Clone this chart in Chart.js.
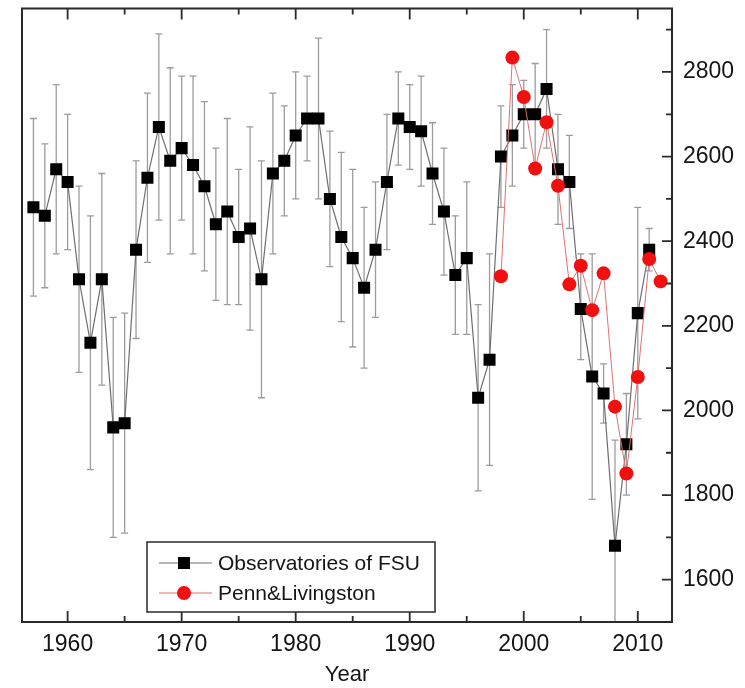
<!DOCTYPE html>
<html><head><meta charset="utf-8">
<script src="https://cdn.jsdelivr.net/npm/chart.js@4/dist/chart.umd.min.js"></script>
<style>html,body{margin:0;padding:0;background:#fff}#wrap{width:745px;height:688px;position:relative}</style>
</head><body><div id="wrap"><canvas id="c"></canvas></div>
<script>
const fsuLabel = 'Observatories of FSU';
const pennLabel = 'Penn&Livingston';
const fsuYears = [1957,1958,1959,1960,1961,1962,1963,1964,1965,1966,1967,1968,1969,1970,1971,1972,1973,1974,1975,1976,1977,1978,1979,1980,1981,1982,1983,1984,1985,1986,1987,1988,1989,1990,1991,1992,1993,1994,1995,1996,1997,1998,1999,2000,2001,2002,2003,2004,2005,2006,2007,2008,2009,2010,2011];
const fsuValues = [2480,2460,2570,2540,2310,2160,2310,1960,1970,2380,2550,2670,2590,2620,2580,2530,2440,2470,2410,2430,2310,2560,2590,2650,2690,2690,2500,2410,2360,2290,2380,2540,2690,2670,2660,2560,2470,2320,2360,2030,2120,2600,2650,2700,2700,2760,2570,2540,2240,2080,2040,1680,1920,2230,2380];
const fsuHigh = [2690,2630,2770,2700,2530,2460,2560,2220,2230,2590,2750,2890,2810,2790,2790,2730,2620,2690,2570,2670,2590,2750,2720,2800,2790,2880,2660,2610,2570,2480,2540,2700,2800,2770,2790,2680,2620,2460,2540,2250,2370,2720,2770,2780,2820,2900,2700,2650,2370,2370,2110,1930,2040,2480,2430];
const fsuLow = [2270,2290,2370,2380,2090,1860,2060,1700,1710,2170,2350,2450,2370,2450,2370,2330,2260,2250,2250,2190,2030,2370,2460,2500,2590,2500,2340,2210,2150,2100,2220,2380,2580,2570,2530,2440,2320,2180,2180,1810,1870,2480,2530,2620,2570,2620,2440,2430,2120,1790,1970,1430,1800,1980,2330];
const pennYears = [1998,1999,2000,2001,2002,2003,2004,2005,2006,2007,2008,2009,2010,2011,2012];
const pennValues = [2317,2834,2741,2572,2681,2531,2298,2342,2237,2324,2009,1851,2079,2358,2305];
const xTickLabels = [1960,1970,1980,1990,2000,2010];
const xMinorTicks = [1965,1975,1985,1995,2005];
const yTickLabels = [1600,1800,2000,2200,2400,2600,2800];
const yMinorTicks = [1700,1900,2100,2300,2500,2700,2900];
const xAxisTitle = 'Year';

const FONT = "'Liberation Sans', Arial, sans-serif";
const INK = '#151515';

const errorBars = {
  id: 'errorBars',
  beforeDatasetsDraw(chart) {
    const {ctx, chartArea: a, scales: {x, y}} = chart;
    ctx.save();
    ctx.beginPath(); ctx.rect(a.left, a.top, a.width, a.height); ctx.clip();
    ctx.strokeStyle = '#9c9c9c'; ctx.lineWidth = 1.3;
    fsuYears.forEach((yr, i) => {
      const px = x.getPixelForValue(yr);
      const hi = y.getPixelForValue(fsuHigh[i]);
      const lo = y.getPixelForValue(fsuLow[i]);
      ctx.beginPath();
      ctx.moveTo(px, hi); ctx.lineTo(px, lo);
      ctx.moveTo(px - 3.5, hi); ctx.lineTo(px + 3.5, hi);
      ctx.moveTo(px - 3.5, lo); ctx.lineTo(px + 3.5, lo);
      ctx.stroke();
    });
    ctx.restore();
  }
};

const frameAndTicks = {
  id: 'frameAndTicks',
  afterDatasetsDraw(chart) {
    const {ctx, chartArea: a, scales: {x, y}} = chart;
    ctx.save();
    ctx.strokeStyle = '#2a2a2a';
    ctx.lineWidth = 2;
    ctx.strokeRect(a.left, a.top, a.width, a.height);
    ctx.lineWidth = 1.8;
    ctx.beginPath();
    xTickLabels.forEach(v => { const p = x.getPixelForValue(v);
      ctx.moveTo(p, a.bottom); ctx.lineTo(p, a.bottom - 11);
      ctx.moveTo(p, a.top); ctx.lineTo(p, a.top + 11); });
    xMinorTicks.forEach(v => { const p = x.getPixelForValue(v);
      ctx.moveTo(p, a.bottom); ctx.lineTo(p, a.bottom - 6);
      ctx.moveTo(p, a.top); ctx.lineTo(p, a.top + 6); });
    yTickLabels.forEach(v => { const p = y.getPixelForValue(v);
      ctx.moveTo(a.right, p); ctx.lineTo(a.right - 10, p); });
    yMinorTicks.forEach(v => { const p = y.getPixelForValue(v);
      ctx.moveTo(a.right, p); ctx.lineTo(a.right - 6, p); });
    ctx.stroke();
    ctx.restore();
  }
};

const boxLegend = {
  id: 'boxLegend',
  afterDraw(chart) {
    const {ctx} = chart;
    const left = 147, top = 542, right = 435, bottom = 612;
    ctx.save();
    ctx.fillStyle = '#fff';
    ctx.fillRect(left, top, right - left, bottom - top);
    ctx.strokeStyle = '#2a2a2a'; ctx.lineWidth = 1.5;
    ctx.strokeRect(left, top, right - left, bottom - top);
    const rows = [{ds: chart.data.datasets[0], y: 563}, {ds: chart.data.datasets[1], y: 593}];
    rows.forEach(r => {
      ctx.strokeStyle = r.ds.borderColor; ctx.lineWidth = 1.2;
      ctx.beginPath(); ctx.moveTo(159, r.y); ctx.lineTo(212, r.y); ctx.stroke();
      ctx.fillStyle = r.ds.pointBackgroundColor;
      if (r.ds.pointStyle === 'rect') {
        ctx.fillRect(184 - 6, r.y - 6, 12, 12);
      } else {
        ctx.beginPath(); ctx.arc(184, r.y, 7, 0, Math.PI * 2); ctx.fill();
      }
      ctx.fillStyle = INK;
      ctx.font = '21px ' + FONT;
      ctx.textBaseline = 'middle'; ctx.textAlign = 'left';
      ctx.fillText(r.ds.label, 218, r.y + 1);
    });
    ctx.restore();
  }
};

new Chart(document.getElementById('c'), {
  type: 'line',
  data: {
    datasets: [
      {
        label: fsuLabel,
        data: fsuYears.map((yr, i) => ({x: yr, y: fsuValues[i]})),
        borderColor: '#6e6e6e', borderWidth: 1.2,
        pointStyle: 'rect', pointRadius: 8.5, pointHoverRadius: 8.5,
        pointBackgroundColor: '#000', pointBorderColor: '#000', pointBorderWidth: 0,
        order: 1
      },
      {
        label: pennLabel,
        data: pennYears.map((yr, i) => ({x: yr, y: pennValues[i]})),
        borderColor: '#e27070', borderWidth: 1,
        pointStyle: 'circle', pointRadius: 7, pointHoverRadius: 7,
        pointBackgroundColor: '#f01010', pointBorderColor: '#f01010', pointBorderWidth: 0,
        order: 0
      }
    ]
  },
  options: {
    responsive: true, maintainAspectRatio: false, animation: false,
    layout: {padding: {left: 22, top: 8, right: 0, bottom: 0}},
    plugins: {legend: {display: false}, tooltip: {enabled: false}},
    scales: {
      x: {
        type: 'linear', position: 'bottom', min: 1956, max: 2013,
        grid: {display: false, drawTicks: false}, border: {display: false},
        afterBuildTicks: s => { s.ticks = xTickLabels.map(v => ({value: v})); },
        afterFit: s => { s.height = 66; s.paddingLeft = 0; s.paddingRight = 0; },
        ticks: {color: INK, font: {family: FONT, size: 23}, padding: 9, maxRotation: 0, callback: v => String(v)},
        title: {display: true, text: xAxisTitle, color: INK, font: {family: FONT, size: 22}, padding: {top: 0, bottom: 0}}
      },
      y: {
        type: 'linear', position: 'right', min: 1500, max: 2950,
        grid: {display: false, drawTicks: false}, border: {display: false},
        afterBuildTicks: s => { s.ticks = yTickLabels.map(v => ({value: v})); },
        afterFit: s => { s.width = 73; s.paddingTop = 0; s.paddingBottom = 0; },
        ticks: {color: INK, font: {family: FONT, size: 23}, padding: 11, callback: v => String(v)}
      }
    }
  },
  plugins: [errorBars, frameAndTicks, boxLegend]
});
</script>
</body></html>
